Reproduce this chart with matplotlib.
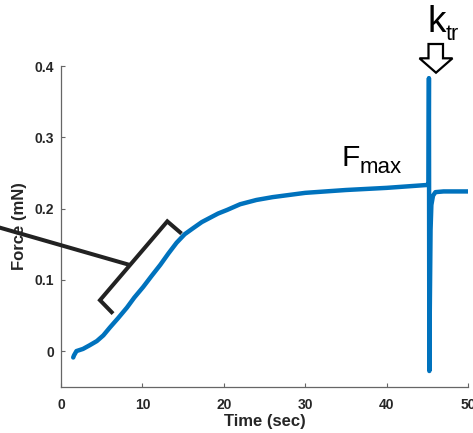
import matplotlib
matplotlib.use("Agg")
import matplotlib.pyplot as plt
from matplotlib.patches import Polygon

plt.rcParams['font.family'] = ['Liberation Sans', 'DejaVu Sans']

# force trace
time_sec = [1.5, 1.6, 1.9, 2.7, 3.5, 4.4, 5.2, 6.0, 7.0, 8.1, 9.0, 10.1, 11.1, 12.2,
            13.2, 14.2, 15.2, 16.3, 17.3, 18.3, 19.3, 20.4, 22.0, 24.0, 26.0, 28.0,
            30.0, 35.0, 40.0, 44.9, 45.15, 45.2, 45.25, 45.3, 45.4, 45.5, 45.7,
            46.0, 47.0, 50.2]
force_mn = [-0.009, -0.006, 0.000, 0.003, 0.008, 0.014, 0.022, 0.033, 0.046, 0.061,
            0.075, 0.090, 0.105, 0.121, 0.137, 0.152, 0.164, 0.173, 0.181, 0.187,
            0.193, 0.198, 0.206, 0.212, 0.216, 0.219, 0.222, 0.226, 0.229, 0.233,
            0.234, 0.383, -0.028, 0.05, 0.17, 0.205, 0.218, 0.223, 0.224, 0.224]
x_ticks = [0, 10, 20, 30, 40, 50]
y_ticks = [0, 0.1, 0.2, 0.3, 0.4]
y_tick_labels = ['0', '0.1', '0.2', '0.3', '0.4']

W, H = 473, 433
fig = plt.figure(figsize=(W / 100, H / 100), dpi=100)
ax = fig.add_axes([61 / W, (H - 386.7) / H, 407 / W, 320.7 / H])

ax.plot(time_sec, force_mn, color='#0072BD', lw=3.2, solid_capstyle='round',
        solid_joinstyle='round')

ax.set_xlim(0, 50)
ax.set_ylim(-0.05, 0.4)
ax.set_xticks(x_ticks)
ax.set_yticks(y_ticks)
ax.set_yticklabels(y_tick_labels)
for s in ['top', 'right']:
    ax.spines[s].set_visible(False)
for s in ['left', 'bottom']:
    ax.spines[s].set_color('#666666')
    ax.spines[s].set_linewidth(0.9)
ax.tick_params(direction='in', length=3, width=0.8, color='#666666',
               labelsize=10, labelcolor='#262626')
ax.tick_params(axis='x', pad=8)
ax.tick_params(axis='y', pad=5)
for lab in ax.get_xticklabels() + ax.get_yticklabels():
    lab.set_fontweight('bold')

ax.set_xlabel('Time (sec)', fontsize=12, fontweight='bold', color='#262626')
ax.set_ylabel('Force (mN)', fontsize=12, fontweight='bold', color='#262626')
ax.xaxis.set_label_coords(0.5, -0.085)
ax.yaxis.set_label_coords(-0.083, 0.5)

# bracket and pointer
ax.plot([6.22, 4.79, 13.06, 14.62], [0.0546, 0.0714, 0.182, 0.1667],
        color='#222222', lw=2.9, clip_on=False, zorder=5, solid_joinstyle='miter')
ax.plot([8.27, -8.5], [0.1214, 0.1764], color='#222222', lw=2.9,
        clip_on=False, zorder=5)

# labels
fig.text(342 / W, 1 - 166 / H, 'F', fontsize=21.5, va='baseline', ha='left')
fig.text(360 / W, 1 - 173 / H, 'max', fontsize=16, va='baseline', ha='left')
fig.text(427 / W, 1 - 32 / H, 'k', fontsize=26.5, va='baseline', ha='left')
fig.text(446 / W, 1 - 40 / H, 'tr', fontsize=15.5, va='baseline', ha='left')

# hollow arrow
arrow_px = [(428.5, 44), (443, 44), (443, 58.3), (452.5, 58.3), (436, 72.7),
            (419.5, 58.3), (428.5, 58.3)]
arrow = Polygon([(x / W, 1 - y / H) for x, y in arrow_px], closed=True,
                facecolor='white', edgecolor='black', lw=1.6,
                transform=fig.transFigure)
fig.add_artist(arrow)

fig.savefig('out.png', dpi=100)
